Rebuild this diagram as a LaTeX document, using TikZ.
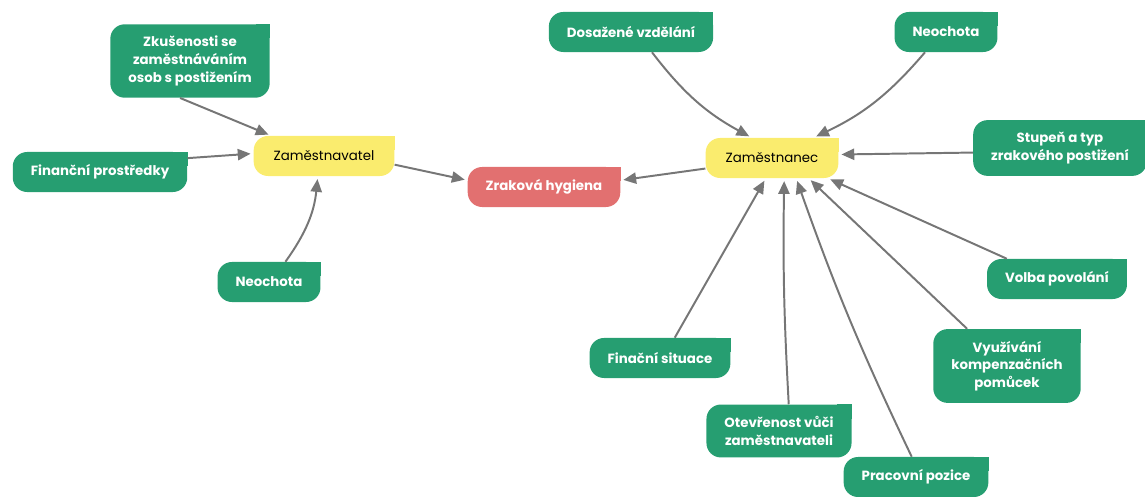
\documentclass[tikz,border=0pt]{standalone}
\usepackage{fontspec}
\setmainfont{Poppins}
\usetikzlibrary{arrows.meta,backgrounds}
\definecolor{leafgreen}{RGB}{38,158,113}
\definecolor{hubyellow}{RGB}{250,236,110}
\definecolor{goalred}{RGB}{226,112,112}
\definecolor{linkgray}{RGB}{118,118,118}

\begin{document}
\begin{tikzpicture}[x=0.025cm, y=0.025cm,
  every node/.style={rounded corners=0.36cm, align=center, minimum height=1cm, inner xsep=0.45cm, inner ysep=0.3cm},
  leaf/.style={fill=leafgreen, text=white, font=\fontsize{9.5}{12.5}\selectfont\bfseries},
  hub/.style={fill=hubyellow, text=black, font=\fontsize{9.5}{12.5}\selectfont, inner xsep=0.5cm},
  goal/.style={fill=goalred, text=white, font=\fontsize{9.5}{12.5}\selectfont\bfseries},
  link/.style={draw=linkgray, line width=1.4pt, -{Triangle[length=3.2mm,width=2.8mm]}, shorten >=2pt}
]
\useasboundingbox (0,0) rectangle (1145,-497);

\node[hub] (er) at (324,-156) {Zaměstnavatel};
\node[hub] (ee) at (772,-158) {Zaměstnanec};
\node[goal] (zh) at (544,-187) {Zraková hygiena};

\node[leaf] (zk) at (190,-61) {Zkušenosti se\\zaměstnáváním\\osob s postižením};
\node[leaf] (fp) at (100,-172) {Finanční prostředky};
\node[leaf] (nl) at (269,-282) {Neochota};

\node[leaf] (dv) at (631,-32) {Dosažené vzdělání};
\node[leaf] (nr) at (946,-32) {Neochota};
\node[leaf] (st) at (1060,-148) {Stupeň a typ\\zrakového postižení};
\node[leaf] (vp) at (1057,-279) {Volba povolání};
\node[leaf] (vk) at (1007,-366) {Využívání\\kompenzačních\\pomůcek};
\node[leaf] (fs) at (660,-358) {Finační situace};
\node[leaf] (ot) at (779,-431) {Otevřenost vůči\\zaměstnavateli};
\node[leaf] (pp) at (916,-477) {Pracovní pozice};

\begin{scope}[on background layer]
  \foreach \n/\c in {er/hubyellow, ee/hubyellow, zh/goalred, zk/leafgreen, fp/leafgreen, nl/leafgreen,
      dv/leafgreen, nr/leafgreen, st/leafgreen, vp/leafgreen, vk/leafgreen, fs/leafgreen, ot/leafgreen, pp/leafgreen}
    \fill[\c] (\n.north east) rectangle ++(-0.36cm,-0.36cm);
\end{scope}

\draw[link] (zk.-105) -- (er.159);
\draw[link] (fp.9) -- (er.178);
\draw[link] (nl.51) to[bend right=15] (er.-107);
\draw[link] (er.-7) -- (zh.175);
\draw[link] (ee.189) -- (zh.5);
\draw[link] (dv.-44) to[bend right=12] (ee.135);
\draw[link] (nr.224) to[bend left=12] (ee.26);
\draw[link] (st.183) -- (ee.3);
\draw[link] (vp.158) -- (ee.-20);
\draw[link] (vk.137) -- (ee.-29);
\draw[link] (pp.102) to[bend left=3] (ee.-40);
\draw[link] (ot.70) to[bend left=2] (ee.-59);
\draw[link] (fs.54) -- (ee.-107);

\end{tikzpicture}
\end{document}
